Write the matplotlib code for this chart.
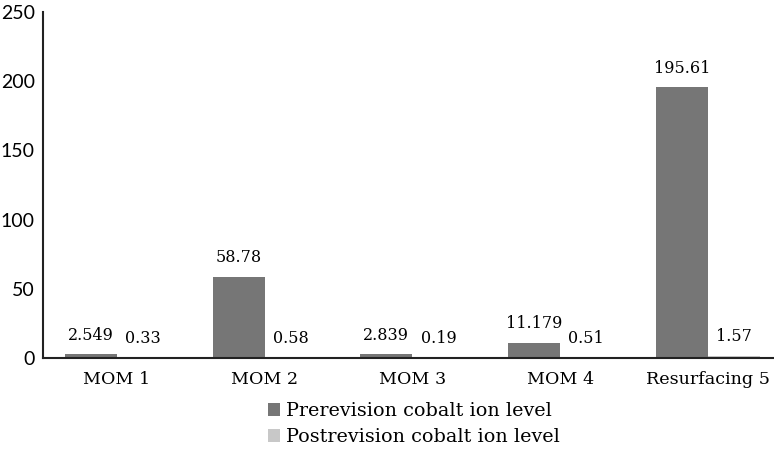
import numpy as np
import matplotlib
matplotlib.use('Agg')
import matplotlib.pyplot as plt

# data
groups = ['MOM 1', 'MOM 2', 'MOM 3', 'MOM 4', 'Resurfacing 5']
pre = [2.549, 58.78, 2.839, 11.179, 195.61]
post = [0.33, 0.58, 0.19, 0.51, 1.57]
pre_txt = ['2.549', '58.78', '2.839', '11.179', '195.61']
post_txt = ['0.33', '0.58', '0.19', '0.51', '1.57']
yticks = [0, 50, 100, 150, 200, 250]

serif = 'DejaVu Serif'
dark = '#767676'
light = '#c8c8c8'

fig = plt.figure(figsize=(7.74, 4.49), dpi=100)
ax = fig.add_axes([43/774, 91/449, 731/774, 346/449])

x = np.arange(len(groups))
w = 0.352
b1 = ax.bar(x - w/2, pre, w, color=dark, label='Prerevision cobalt ion level')
b2 = ax.bar(x + w/2, post, w, color=light, label='Postrevision cobalt ion level')

for xi, v, t in zip(x, pre, pre_txt):
    ax.text(xi - w/2, v + 7.5, t, ha='center', va='bottom', fontsize=11.5, family=serif)
for xi, v, t in zip(x, post, post_txt):
    ax.text(xi + w/2, v + 7.5, t, ha='center', va='bottom', fontsize=11.5, family=serif)

ax.set_xlim(-0.5, 4.447)
ax.set_ylim(0, 250)
ax.set_yticks(yticks)
ax.set_xticks(x)
ax.set_xticklabels(groups, fontsize=12.6, family=serif)
ax.tick_params(axis='y', length=0, labelsize=14, pad=6)
ax.tick_params(axis='x', length=0, pad=9)
for t in ax.get_yticklabels():
    t.set_family('Lato')

for s in ['top', 'right']:
    ax.spines[s].set_visible(False)
for s in ['left', 'bottom']:
    ax.spines[s].set_linewidth(1.5)
    ax.spines[s].set_color('#222222')

ax.legend(handles=[b1, b2], loc='upper left', bbox_to_anchor=(0.297, -0.105),
          frameon=False, prop={'family': serif, 'size': 13.8},
          handlelength=0.65, handleheight=0.65, handletextpad=0.3,
          labelspacing=0.42, borderaxespad=0)

fig.savefig('out.png', dpi=100)
